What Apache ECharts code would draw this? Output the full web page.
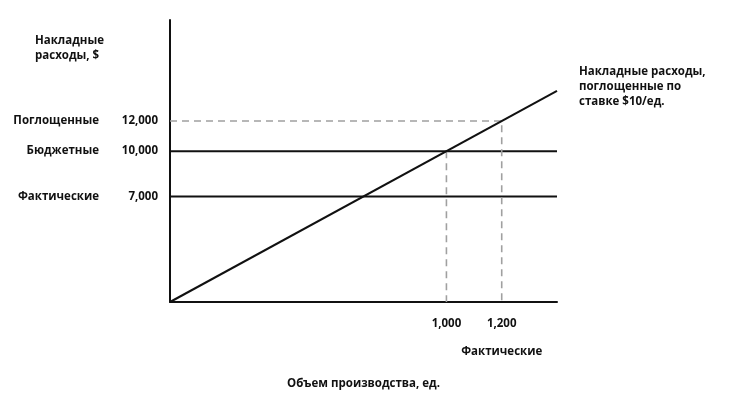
<!DOCTYPE html>
<html><head><meta charset="utf-8">
<script src="https://cdn.jsdelivr.net/npm/echarts@6/dist/echarts.min.js"></script>
<style>html,body{margin:0;background:#fff}#c{width:734px;height:406px}</style>
</head><body><div id="c"></div>
<script>
const volume = [0, 1400];
const absorbed = [0, 14000];
const yLevels = [7000, 10000, 12000];
const yLevelNames = ['Фактические', 'Бюджетные', 'Поглощенные'];
const xLevels = [1000, 1200];
const xLevelNames = ['Бюджетные', 'Фактические'];
const budgetOverhead = 10000, actualOverhead = 7000;
const budgetVolume = 1000, actualVolume = 1200, absorbedAtActual = 12000;

const fmt = v => v.toLocaleString('en-US');
const font = {fontFamily:'Open Sans', fontWeight:'bold', fontSize:11.5, color:'#111'};
const chart = echarts.init(document.getElementById('c'));
const solid = {color:'#111', width:2};
const dash = {color:'#a0a0a0', width:1.6, type:[7,5]};
const xBase = {type:'value', min:0, max:1400, axisTick:{show:false}, splitLine:{show:false}};
chart.setOption({
  animation:false,
  textStyle:font,
  title:{text:'Накладные\nрасходы, $', left:30, top:28, textStyle:{...font, lineHeight:15}},
  grid:{left:170, right:177, top:20, bottom:104},
  xAxis:[
    {...xBase, axisLine:{lineStyle:{color:'#111', width:2}},
     axisLabel:{customValues:xLevels, hideOverlap:false, margin:16, formatter:v=>fmt(v), ...font},
     name:'Объем производства, ед.', nameLocation:'middle', nameGap:76, nameTextStyle:font},
    {...xBase, position:'bottom', offset:36, axisLine:{show:false},
     axisLabel:{customValues:xLevels, hideOverlap:false, formatter:v=>xLevelNames[xLevels.indexOf(v)], ...font}}
  ],
  yAxis:[
    {type:'value', min:0, max:18700, axisLine:{show:true, lineStyle:{color:'#111', width:2}},
     axisTick:{show:false}, splitLine:{show:false},
     axisLabel:{customValues:yLevels, formatter:v=>fmt(v), margin:12, ...font}},
    {type:'value', min:0, max:18700, position:'left', offset:63, axisLine:{show:false},
     axisTick:{show:false}, splitLine:{show:false},
     axisLabel:{customValues:yLevels, formatter:v=>yLevelNames[yLevels.indexOf(v)], ...font}}
  ],
  series:[
    {type:'line', symbol:'none', lineStyle:solid, data:[[0,budgetOverhead],[volume[1],budgetOverhead]]},
    {type:'line', symbol:'none', lineStyle:solid, data:[[0,actualOverhead],[volume[1],actualOverhead]]},
    {type:'line', symbol:'none', lineStyle:dash, data:[[0,absorbedAtActual],[actualVolume,absorbedAtActual],[actualVolume,0]]},
    {type:'line', symbol:'none', lineStyle:dash, data:[[budgetVolume,budgetOverhead],[budgetVolume,0]]},
    {type:'line', symbol:'none', lineStyle:solid, z:5,
     data:volume.map((v,i)=>[v,absorbed[i]]),
     endLabel:{show:true, formatter:'Накладные расходы,\nпоглощенные по\nставке $10/ед.', ...font, lineHeight:15, offset:[14,-4]}}
  ]
});
</script></body></html>
